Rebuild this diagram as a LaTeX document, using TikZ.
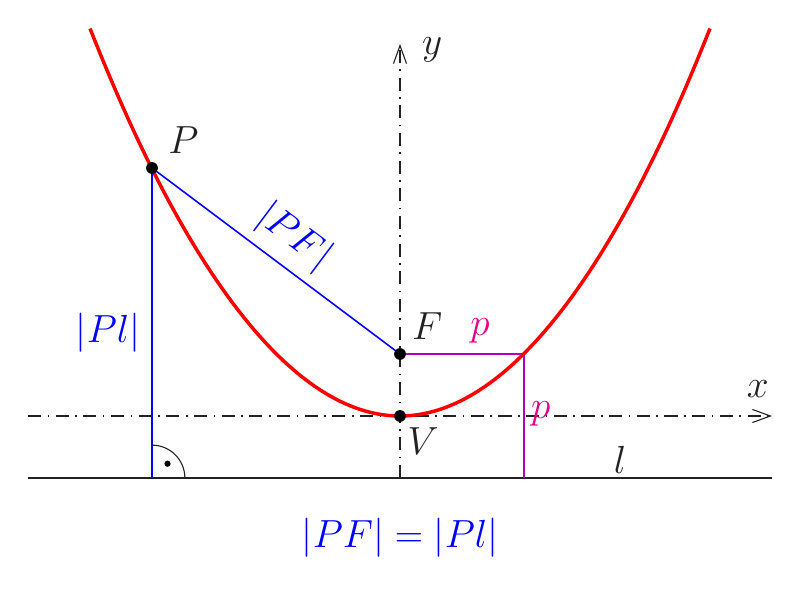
\documentclass[tikz,border=0pt]{standalone}
\usepackage{fix-cm}
\usepackage{amsmath}
\usetikzlibrary{arrows.meta,positioning}
\definecolor{latus}{RGB}{175,0,190}
\definecolor{plabel}{RGB}{230,0,135}
\definecolor{ink}{RGB}{34,34,34}
\tikzset{
  axis/.style={ink,line width=0.5pt,dash pattern=on 6pt off 3pt on 0.7pt off 3pt,
    -{Straight Barb[length=2.9mm,width=2.1mm,line width=0.5pt]}},
  lbl/.style={ink},
  dot/.style={fill=black},
}
\begin{document}
\begin{tikzpicture}[font=\fontsize{18}{21}\selectfont]
         \useasboundingbox (-6.452,-2.790) rectangle (6.452,6.710) ;
         % points
         \coordinate (V) at (0,0) ;
         \coordinate (F) at (0,1) ;
         \coordinate (P) at (-4,4) ;
         \coordinate (L) at (-4,-1) ;
         \coordinate (Q) at (2,1) ;
         \coordinate (R) at (2,-1) ;
         % axes and directrix
         \coordinate (xa) at (-6,0) ; \coordinate (xb) at (6,0) ;
         \coordinate (ya) at (0,-1) ; \coordinate (yb) at (0,6) ;
         \draw[axis] (xa) -- (xb) ;
         \node[lbl] (xname) at (5.77,0.43) {$x$} ;
         \draw[axis] (ya) -- (yb) ;
         \node[lbl] (yname) at (0.52,5.9) {$y$} ;
         \coordinate (la) at (-6,-1) ; \coordinate (lb) at (6,-1) ;
         \draw[ink,line width=1pt] (la) -- (lb) ;
         \node[lbl] (lname) at (3.55,-0.70) {$l$} ;
         % latus rectum
         \draw[latus,line width=0.8pt] (F) -- (Q) -- (R) ;
         \node[plabel] (p1) at (1.29,1.38) {$p$} ;
         \node[plabel] (p2) at (2.27,0.04) {$p$} ;
         % distances
         \draw[blue,line width=0.7pt] (P) -- (F) node[midway,above,sloped,yshift=1pt] {$|PF|$} ;
         \draw[blue,line width=0.7pt] (P) -- (L) ;
         \node[blue] (Pl) at (-4.71,1.34) {$|Pl|$} ;
         \draw[ink,line width=0.5pt] ([yshift=0.53cm]L) arc[start angle=90,end angle=0,radius=0.53] ;
         \fill[black] ([shift={(0.25,0.23)}]L) circle (0.05) ;
         % parabola
         \draw[red,line width=1.6pt] (-5,6.25) parabola bend (V) (5,6.25) ;
         \fill[dot] (P) circle (0.095) node[lbl,above right=3pt and 4pt] {$P$} ;
         \fill[dot] (F) circle (0.095) node[lbl,above right=3pt and 2pt] {$F$} ;
         \fill[dot] (V) circle (0.095) node[lbl,below right=2pt and 0pt] {$V$} ;
         \node[blue] (eq) at (0,-1.97) {$|PF|=|Pl|$} ;
\end{tikzpicture}
\end{document}
